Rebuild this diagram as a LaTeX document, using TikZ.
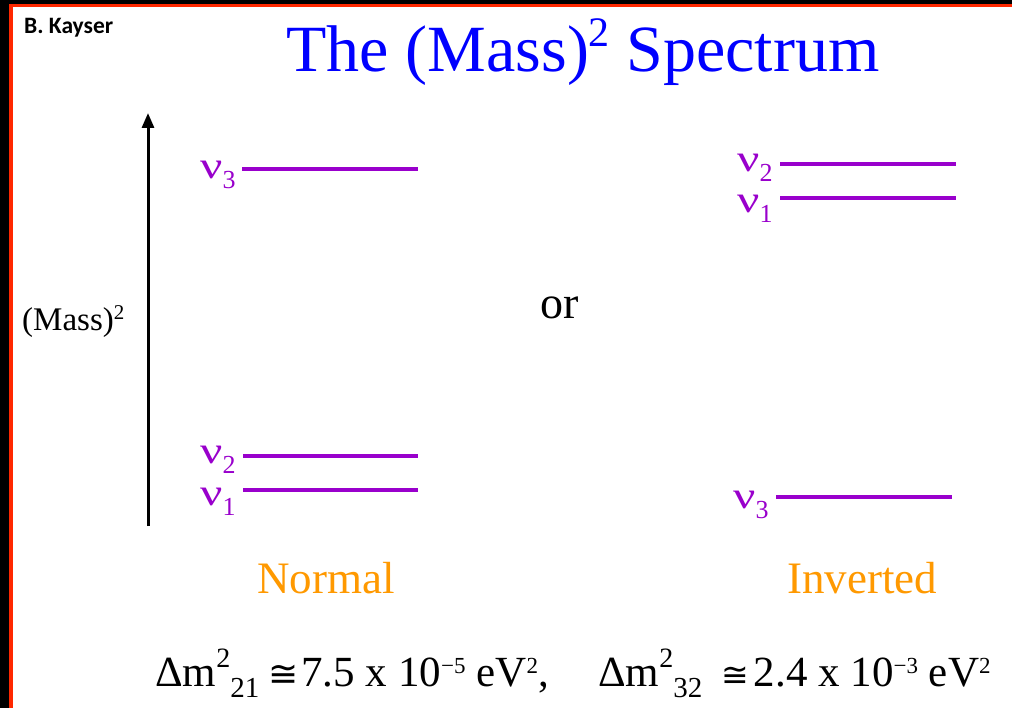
\documentclass[tikz,border=0pt]{standalone}
\usepackage{fontspec}
\usepackage{graphicx}
\setmainfont{Liberation Serif}
\newfontfamily\calib{Carlito}
\newfontfamily\dvs{DejaVu Sans}
\usetikzlibrary{arrows.meta}
\definecolor{frred}{RGB}{255,40,0}
\definecolor{tblue}{RGB}{0,0,255}
\definecolor{lvl}{RGB}{153,0,204}
\definecolor{orng}{RGB}{255,153,0}
\newcommand\fs[1]{\fontsize{#1}{#1}\selectfont}
\newcommand\nusub[1]{\scalebox{1.3}[1]{ν}\raisebox{-10pt}{\fs{26}#1}}
\newcommand\supbig[1]{\raisebox{19pt}{\fs{28}#1}}
\newcommand\subbig[1]{\raisebox{-11pt}{\fs{29}#1}}
\newcommand\supsml[1]{\raisebox{13pt}{\fs{23}#1}}
\begin{document}
\begin{tikzpicture}[x=1pt,y=-1pt,
  level/.style={draw=lvl,line width=4pt},
  nulab/.style={text=lvl,anchor=base west,inner sep=0pt,font=\fs{38}},
  caselab/.style={text=orng,anchor=base west,inner sep=0pt,font=\fs{45}},
  formula/.style={text=black,anchor=base west,inner sep=0pt,font=\fs{43}}]
\useasboundingbox (0,0) rectangle (1012,708);
\fill[white] (0,0) rectangle (1012,708);
% frame
\fill[black] (0,0) rectangle (9,708);
\fill[black] (0,0) rectangle (1012,4);
\fill[frred] (9,4) rectangle (1012,7);
\fill[frred] (9,4) rectangle (13,708);
% author
\node[anchor=base west,inner sep=0pt,font=\calib\bfseries\fs{23.5}] (author) at (24,34) {B. Kayser};
% title
\node[anchor=base,inner sep=0pt,text=tblue,font=\fs{66}] (title) at (583,72) {The (Mass)\raisebox{25pt}{\fs{42}2} Spectrum};
% axis
\coordinate (ax0) at (148,526);
\coordinate (ax1) at (148,113);
\draw[line width=3pt,-{Triangle[width=12pt,length=15pt]}] (ax0) -- (ax1);
\node[anchor=base west,inner sep=0pt,font=\fs{33}] (axlab) at (22,331) {(Mass)\raisebox{11pt}{\fs{21}2}};
% normal levels
\coordinate (n3a) at (242,169); \coordinate (n3b) at (418,169);
\coordinate (n2a) at (243,456); \coordinate (n2b) at (418,456);
\coordinate (n1a) at (243,490); \coordinate (n1b) at (418,490);
\draw[level] (n3a) -- (n3b);
\draw[level] (n2a) -- (n2b);
\draw[level] (n1a) -- (n1b);
\node[nulab] (ln3) at (200,179) {\nusub{3}};
\node[nulab] (ln2) at (200,463) {\nusub{2}};
\node[nulab] (ln1) at (200,505) {\nusub{1}};
% inverted levels
\coordinate (i2a) at (780,164); \coordinate (i2b) at (956,164);
\coordinate (i1a) at (780,198); \coordinate (i1b) at (956,198);
\coordinate (i3a) at (776,497); \coordinate (i3b) at (952,497);
\draw[level] (i2a) -- (i2b);
\draw[level] (i1a) -- (i1b);
\draw[level] (i3a) -- (i3b);
\node[nulab] (li2) at (737,172) {\nusub{2}};
\node[nulab] (li1) at (737,213) {\nusub{1}};
\node[nulab] (li3) at (733,508) {\nusub{3}};
% or
\node[anchor=base,inner sep=0pt,font=\fs{46}] (or) at (560,319) {or};
% case labels
\node[caselab] (normal) at (257,593) {Normal};
\node[caselab] (inverted) at (787,593) {Inverted};
% formulas
\node[formula] (f1) at (155,686) {Δm\supbig{2}\subbig{21}\hspace{9pt}{\dvs\fs{36}≅}\hspace{3pt}7.5 x 10\supsml{−5} eV\supsml{2},};
\node[formula] (f2) at (598,686) {Δm\supbig{2}\subbig{32}\hspace{19pt}{\dvs\fs{33}≅}\hspace{5pt}2.4 x 10\supsml{−3} eV\supsml{2}};
\end{tikzpicture}
\end{document}
